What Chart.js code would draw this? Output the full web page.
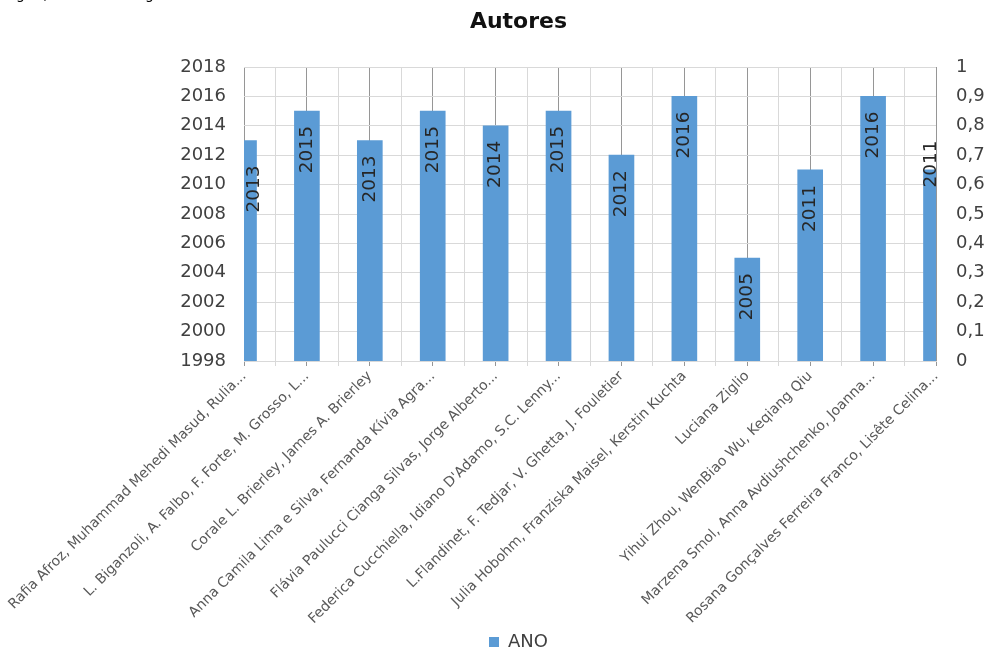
<!DOCTYPE html>
<html><head><meta charset="utf-8">
<script src="https://cdn.jsdelivr.net/npm/chart.js@4"></script>
<style>
html,body{margin:0;padding:0;background:#fff;overflow:hidden}
#wrap{position:relative;width:987px;height:651px}
#frag{position:absolute;left:0;top:-14px;font:14px "DejaVu Sans";color:#000;white-space:nowrap}
canvas{position:absolute;left:0;top:0}
</style></head><body>
<div id="wrap"><canvas id="c" width="987" height="651"></canvas><div id="frag">seguir, conforme a figura</div></div>
<script>
const categories = [
  "Rafia Afroz, Muhammad Mehedi Masud, Rulia...",
  "L. Biganzoli, A. Falbo, F. Forte, M. Grosso, L...",
  "Corale L. Brierley, James A. Brierley",
  "Anna Camila Lima e Silva, Fernanda Kívia Agra...",
  "Flávia Paulucci Cianga Silvas, Jorge Alberto...",
  "Federica Cucchiella, Idiano D'Adamo, S.C. Lenny...",
  "L.Flandinet, F. Tedjar, V. Ghetta, J. Fouletier",
  "Julia Hobohm, Franziska Maisel, Kerstin Kuchta",
  "Luciana Ziglio",
  "Yihui Zhou, WenBiao Wu, Keqiang Qiu",
  "Marzena Smol, Anna Avdiushchenko, Joanna...",
  "Rosana Gonçalves Ferreira Franco, Lisête Celina..."
];
const anoValues = [2013, 2015, 2013, 2015, 2014, 2015, 2012, 2016, 2005, 2011, 2016, 2011];
const seriesName = "ANO";
const chartTitle = "Autores";
const leftAxisMin = 1998, leftAxisMax = 2018, leftAxisStep = 2;
const rightTickLabels = ["0", "0,1", "0,2", "0,3", "0,4", "0,5", "0,6", "0,7", "0,8", "0,9", "1"];

Chart.defaults.font.family = '"DejaVu Sans", Verdana, sans-serif';
Chart.defaults.color = '#595959';

const PLOT_LEFT = 244, PLOT_RIGHT = 936, PLOT_BOTTOM = 361, CANVAS_W = 987, CANVAS_H = 651;
const PAD_BOTTOM = -10, PAD_LEFT = 50;

const barLabelPlugin = {
  id: 'barLabels',
  afterDatasetsDraw(chart) {
    const {ctx, chartArea: a} = chart;
    const meta = chart.getDatasetMeta(0);
    const data = chart.data.datasets[0].data;
    ctx.save();
    ctx.font = '18.5px "DejaVu Sans", Verdana, sans-serif';
    ctx.fillStyle = '#262626';
    ctx.textBaseline = 'middle';
    meta.data.forEach((bar, i) => {
      const half = bar.width / 2;
      let x = bar.x, y = bar.y, align = 'right', dy = 15;
      if (bar.x - half < a.left - 0.5) { x = a.left + 10; dy = 25; }
      else if (bar.x + half > a.right + 0.5) { x = a.right - 5; align = 'center'; dy = -6; }
      ctx.save();
      ctx.translate(x, y + dy);
      ctx.rotate(-Math.PI / 2);
      ctx.textAlign = align;
      ctx.fillText(String(data[i]), 0, 0);
      ctx.restore();
    });
    ctx.restore();
  }
};

new Chart(document.getElementById('c'), {
  type: 'bar',
  data: {
    labels: categories,
    datasets: [{
      label: seriesName,
      data: anoValues,
      backgroundColor: '#5B9BD5',
      borderWidth: 0,
      barThickness: 25,
      xAxisID: 'x',
      yAxisID: 'y'
    }]
  },
  options: {
    responsive: false,
    animation: false,
    devicePixelRatio: 1,
    layout: {padding: {left: PAD_LEFT, right: 0, top: 0, bottom: PAD_BOTTOM}},
    plugins: {
      title: {
        display: true, text: chartTitle, color: '#111',
        font: {size: 22, weight: 'bold'},
        padding: {top: 9, bottom: 31.6}
      },
      legend: {
        display: true, position: 'bottom',
        labels: {boxWidth: 10, boxHeight: 10, padding: 10, color: '#404040', font: {size: 18}}
      },
      tooltip: {enabled: false}
    },
    scales: {
      x2: {
        axis: 'x', type: 'category', position: 'bottom', weight: -1, offset: false,
        grid: {offset: true, color: '#d9d9d9', drawTicks: true, tickLength: 5},
        border: {display: false},
        ticks: {display: false},
        afterFit(s) { s.height = 0; }
      },
      x: {
        type: 'category', position: 'bottom', offset: false,
        grid: {offset: false, color: '#969696', drawTicks: true, tickLength: 5},
        border: {display: true, color: '#d9d9d9'},
        ticks: {autoSkip: false, minRotation: 45, maxRotation: 45, padding: 2, color: '#595959', font: {size: 14}},
        afterFit(s) {
          const lg = s.chart.legend;
          s.height = CANVAS_H - PAD_BOTTOM - PLOT_BOTTOM - (lg ? lg.height : 0);
        }
      },
      y: {
        type: 'linear', position: 'left',
        min: leftAxisMin, max: leftAxisMax,
        ticks: {stepSize: leftAxisStep, padding: 18, color: '#404040', font: {size: 18},
          callback: (v) => String(v)},
        grid: {color: '#d9d9d9', drawTicks: false},
        border: {display: false},
        afterFit(s) { s.width = PLOT_LEFT - PAD_LEFT; }
      },
      y1: {
        type: 'linear', position: 'right',
        min: 0, max: 1,
        ticks: {stepSize: 0.1, padding: 20, color: '#404040', font: {size: 18},
          callback: (v, i) => rightTickLabels[i]},
        grid: {display: true, drawOnChartArea: false, drawTicks: false, color: 'rgba(0,0,0,0)'},
        border: {display: false},
        afterFit(s) { s.width = CANVAS_W - PLOT_RIGHT; }
      }
    }
  },
  plugins: [barLabelPlugin]
});
</script>
</body></html>
